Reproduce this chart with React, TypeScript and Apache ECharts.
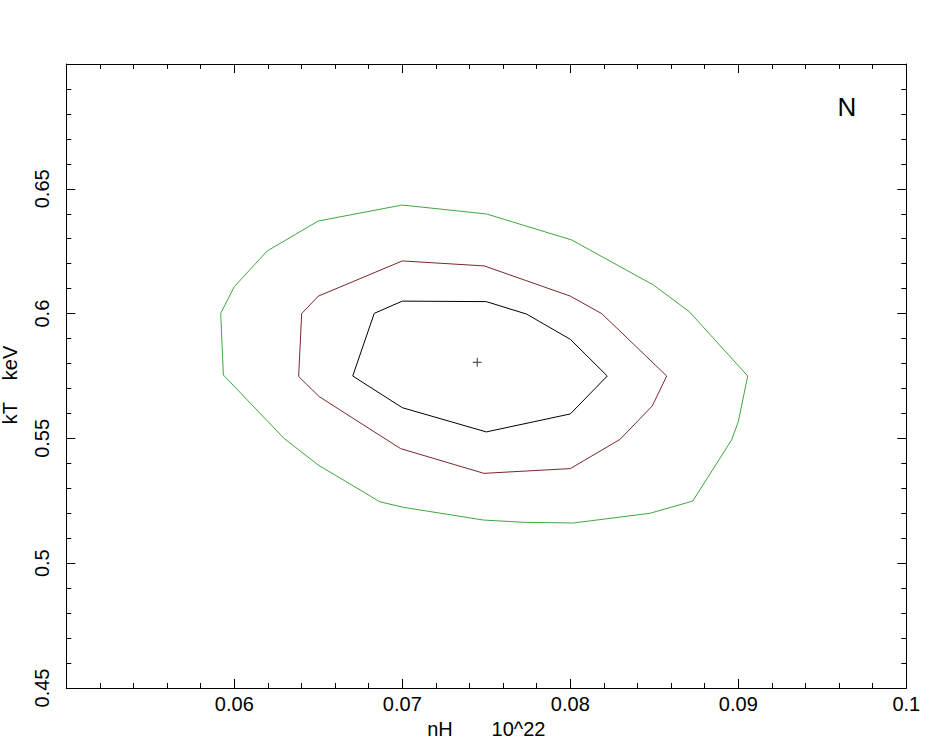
import React, { useEffect, useRef } from "react";
import * as echarts from "echarts";

const xTicks = [0.05, 0.06, 0.07, 0.08, 0.09, 0.1];
const yTicks = [0.45, 0.5, 0.55, 0.6, 0.65, 0.7];

// contour levels: [nH, kT]
const innerContour: [number, number][] = [
  [0.07, 0.605], [0.075, 0.6048], [0.0774, 0.5998], [0.08, 0.5897], [0.0822, 0.575],
  [0.08, 0.5598], [0.075, 0.5526], [0.07, 0.5623], [0.06705, 0.575], [0.06833, 0.6001],
  [0.07, 0.605],
];
const middleContour: [number, number][] = [
  [0.07, 0.6211], [0.07488, 0.6191], [0.08, 0.607], [0.08187, 0.6], [0.08574, 0.575],
  [0.08488, 0.563], [0.08296, 0.5496], [0.08, 0.5379], [0.07486, 0.536], [0.0699, 0.5459],
  [0.06506, 0.5667], [0.06383, 0.5748], [0.06401, 0.6], [0.065, 0.607], [0.07, 0.6211],
];
const outerContour: [number, number][] = [
  [0.07, 0.6435], [0.07502, 0.6399], [0.08008, 0.6295], [0.08494, 0.6115], [0.08708, 0.6008],
  [0.09056, 0.575], [0.09, 0.5567], [0.0896, 0.5494], [0.08729, 0.5249], [0.08474, 0.52],
  [0.08018, 0.5161], [0.0772, 0.5164], [0.07482, 0.5173], [0.07006, 0.5224], [0.06867, 0.5246],
  [0.065, 0.5393], [0.06296, 0.55], [0.05935, 0.5754], [0.05919, 0.6001], [0.06, 0.6108],
  [0.06196, 0.6251], [0.065, 0.6371], [0.07, 0.6435],
];
const bestFit: [number, number][] = [[0.07446, 0.5805]];

const FONT = "Liberation Sans, Arial, Helvetica, sans-serif";

export default function App() {
  const ref = useRef<HTMLDivElement>(null);
  useEffect(() => {
    if (!ref.current) return;
    document.body.style.margin = "0";
    const chart = echarts.init(ref.current, null, { renderer: "svg" });
    const axisCommon = {
      type: "value" as const,
      axisLine: { show: true, onZero: false, lineStyle: { color: "#000", width: 1 } },
      axisTick: { show: true, inside: true, length: 9, lineStyle: { color: "#000" } },
      minorTick: { show: true, splitNumber: 5, length: 5, lineStyle: { color: "#000" } },
      splitLine: { show: false },
      minorSplitLine: { show: false },
    };
    chart.setOption({
      animation: false,
      backgroundColor: "#fff",
      grid: {
        left: 66.3,
        top: 64,
        right: 28.7,
        bottom: 51,
        containLabel: false,
        outerBoundsMode: "none",
      },
      xAxis: [
        {
          ...axisCommon,
          min: xTicks[0],
          max: xTicks[xTicks.length - 1],
          interval: 0.01,
          position: "bottom",
          axisLabel: {
            show: true,
            margin: 6,
            color: "#000",
            fontSize: 20,
            fontFamily: FONT,
            showMinLabel: false,
            formatter: (v: number) => String(Math.round(v * 1000) / 1000),
          },
          name: "nH       10^22",
          nameLocation: "middle",
          nameGap: 31,
          nameMoveOverlap: false,
          nameTextStyle: { color: "#000", fontSize: 20, fontFamily: FONT },
        },
        {
          ...axisCommon,
          min: xTicks[0],
          max: xTicks[xTicks.length - 1],
          interval: 0.01,
          position: "top",
          axisLabel: { show: false },
        },
      ],
      yAxis: [
        {
          ...axisCommon,
          min: yTicks[0],
          max: yTicks[yTicks.length - 1],
          interval: 0.05,
          position: "left",
          axisLabel: {
            show: true,
            rotate: 90,
            margin: 14,
            color: "#000",
            fontSize: 20,
            fontFamily: FONT,
            showMaxLabel: false,
            formatter: (v: number) => String(Math.round(v * 1000) / 1000),
          },
        },
        {
          ...axisCommon,
          min: yTicks[0],
          max: yTicks[yTicks.length - 1],
          interval: 0.05,
          position: "right",
          axisLabel: { show: false },
        },
      ],
      graphic: [
        {
          type: "text",
          x: 10,
          y: 385,
          rotation: Math.PI / 2,
          style: {
            text: "kT    keV",
            fill: "#000",
            font: `20px ${FONT}`,
            textAlign: "center",
            textVerticalAlign: "middle",
          },
        },
        {
          type: "text",
          x: 847,
          y: 107,
          style: {
            text: "N",
            fill: "#000",
            font: `26px ${FONT}`,
            textAlign: "center",
            textVerticalAlign: "middle",
          },
        },
      ],
      series: [
        {
          type: "line",
          data: outerContour,
          showSymbol: false,
          symbol: "none",
          lineStyle: { color: "#3fa83f", width: 1 },
          silent: true,
        },
        {
          type: "line",
          data: middleContour,
          showSymbol: false,
          symbol: "none",
          lineStyle: { color: "#7a2828", width: 1 },
          silent: true,
        },
        {
          type: "line",
          data: innerContour,
          showSymbol: false,
          symbol: "none",
          lineStyle: { color: "#000", width: 1 },
          silent: true,
        },
        {
          type: "scatter",
          data: bestFit,
          symbol: "path://M4,0h1v9h-1z M0,4h9v1h-9z",
          symbolSize: 9,
          itemStyle: { color: "#000" },
          silent: true,
        },
      ],
    });
    return () => chart.dispose();
  }, []);
  return <div ref={ref} style={{ width: 935, height: 739, background: "#fff" }} />;
}
